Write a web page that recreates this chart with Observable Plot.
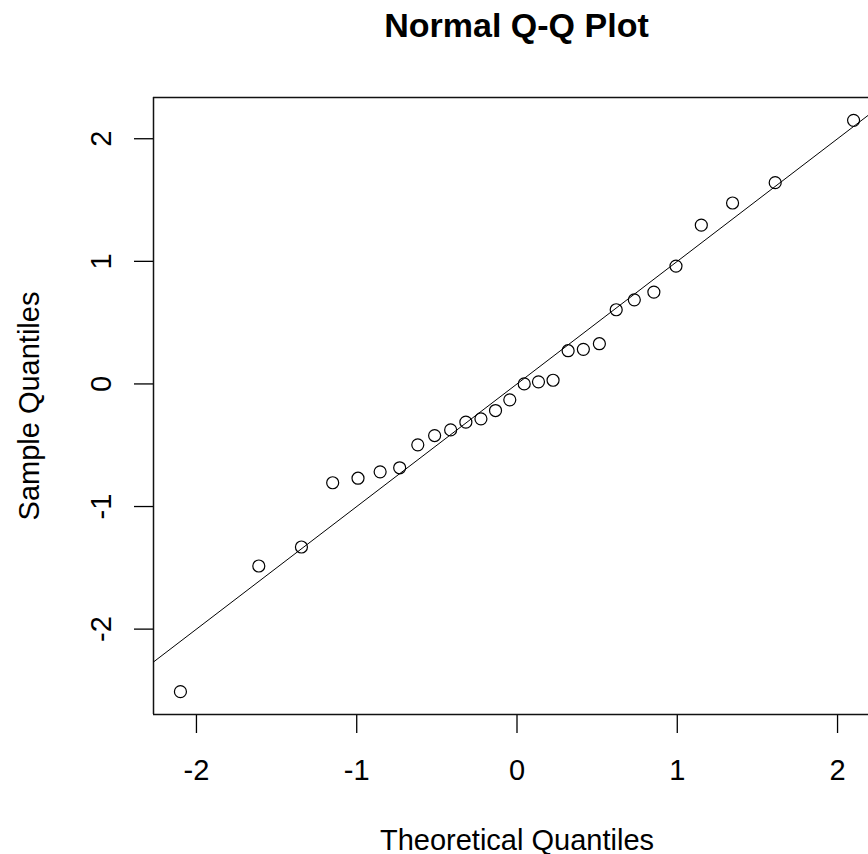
<!DOCTYPE html>
<html>
<head>
<meta charset="utf-8">
<script src="https://cdn.jsdelivr.net/npm/d3@7"></script>
<script src="https://cdn.jsdelivr.net/npm/@observablehq/plot@0.6"></script>
<style>
  html, body { margin: 0; padding: 0; background: #fff; overflow: hidden; }
  #wrap { position: relative; width: 868px; height: 854px; }
  #title {
    position: absolute; top: 8px; left: 0; width: 1033px; text-align: center;
    font-family: "Liberation Sans", Arial, sans-serif; font-weight: bold;
    font-size: 34px; line-height: 34px; color: #000; z-index: 2;
  }
</style>
</head>
<body>
<div id="wrap">
  <div id="title">Normal Q-Q Plot</div>
  <div id="chart"></div>
</div>
<script>
// Theoretical normal quantiles (x) and sample quantiles (y)
const theoretical = [-2.100, -1.611, -1.345, -1.150, -0.992, -0.854, -0.732, -0.619, -0.514, -0.414,
  -0.319, -0.225, -0.134, -0.045, 0.045, 0.134, 0.225, 0.319, 0.414, 0.514,
  0.619, 0.732, 0.854, 0.992, 1.150, 1.345, 1.611, 2.100];
const sample = [-2.51, -1.485, -1.33, -0.806, -0.769, -0.717, -0.684, -0.497, -0.421, -0.375,
  -0.312, -0.285, -0.217, -0.13, 0.0, 0.017, 0.03, 0.271, 0.282, 0.328,
  0.605, 0.686, 0.749, 0.961, 1.295, 1.476, 1.642, 2.15];
// Reference line (qqline)
const lineIntercept = 0.0;
const lineSlope = 1.0;
// Tick values
const xTicks = [-2, -1, 0, 1, 2];
const yTicks = [-2, -1, 0, 1, 2];
const xLabel = "Theoretical Quantiles";
const yLabel = "Sample Quantiles";

const points = theoretical.map((t, i) => ({theoretical: t, sample: sample[i]}));

function padded(ext) {
  const p = (ext[1] - ext[0]) * 0.04;
  return [ext[0] - p, ext[1] + p];
}
const xDomain = padded(d3.extent(theoretical));
const yDomain = padded(d3.extent(sample));
const linePts = xDomain.map(x => ({x, y: lineIntercept + lineSlope * x}));

const W = 868, H = 854;
const mLeft = 153, mTop = 97, mBottom = 140;

const chart = Plot.plot({
  width: W,
  height: H,
  marginLeft: mLeft,
  marginRight: 0,
  marginTop: mTop,
  marginBottom: mBottom,
  style: {fontFamily: "'Liberation Sans', Arial, sans-serif", fontSize: "29px", color: "#000", background: "#fff"},
  x: {domain: xDomain, range: [mLeft, 880]},
  y: {domain: yDomain, range: [H - mBottom, mTop]},
  marks: [
    Plot.axisX({ticks: xTicks, tickSize: 19, tickPadding: 26, tickFormat: d => String(d), label: null, fontSize: 29, strokeWidth: 1.3}),
    Plot.axisY({ticks: yTicks, tickSize: 19, tickFormat: () => "", label: null, strokeWidth: 1.3}),
    Plot.text(yTicks, {y: d => d, text: d => String(d), frameAnchor: "left", dx: -43, rotate: -90, textAnchor: "middle", lineAnchor: "bottom", fontSize: 29, fill: "#000"}),
    Plot.text([xLabel], {x: () => (xDomain[0] + xDomain[1]) / 2, text: d => d, frameAnchor: "bottom", dy: 135, lineAnchor: "bottom", textAnchor: "middle", fontSize: 29, fill: "#000"}),
    Plot.text([yLabel], {text: d => d, frameAnchor: "left", dx: -115, rotate: -90, lineAnchor: "bottom", textAnchor: "middle", fontSize: 29, fill: "#000"}),
    Plot.ruleY([yDomain[0], yDomain[1]], {stroke: "#111", strokeWidth: 1.5}),
    Plot.ruleX([xDomain[0]], {stroke: "#111", strokeWidth: 1.5}),
    Plot.line(linePts, {x: "x", y: "y", stroke: "#000", strokeWidth: 1, clip: true}),
    Plot.dot(points, {x: "theoretical", y: "sample", r: 6, stroke: "#000", strokeWidth: 1.2, fill: "none"})
  ]
});
document.getElementById("chart").appendChild(chart);
</script>
</body>
</html>
